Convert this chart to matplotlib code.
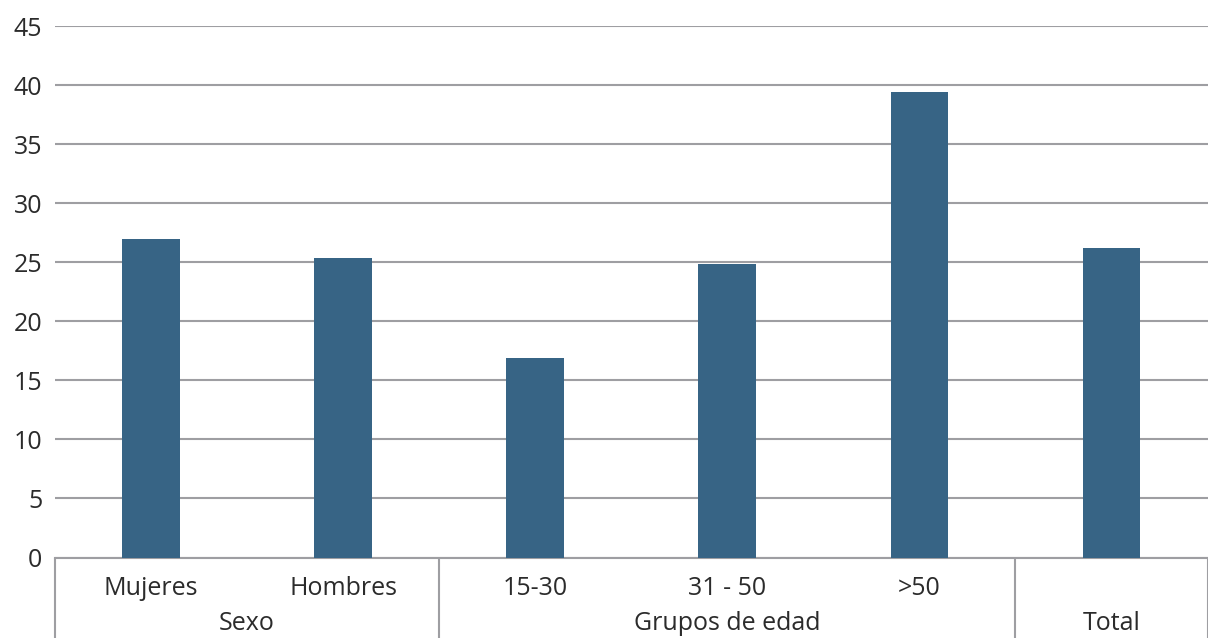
import matplotlib
matplotlib.use("Agg")
import matplotlib.pyplot as plt
import matplotlib.transforms as mtransforms

# Porcentaje por categoría
categories = ["Mujeres", "Hombres", "15-30", "31 - 50", ">50", "Total"]
tick_labels = ["Mujeres", "Hombres", "15-30", "31 - 50", ">50", ""]
values = [27.0, 25.4, 16.9, 24.9, 39.4, 26.2]

# Agrupación de categorías en el eje x: (nombre, primer índice, último índice)
group_names = ["Sexo", "Grupos de edad", "Total"]
group_start = [0, 2, 5]
group_end = [1, 4, 5]

y_ticks = [0, 5, 10, 15, 20, 25, 30, 35, 40, 45]

bar_color = "#376485"
grid_color = "#9e9ea2"
text_color = "#2b2b2b"
font_size = 18

plt.rcParams["font.family"] = ["Open Sans", "DejaVu Sans"]

W, H = 1208, 638
fig = plt.figure(figsize=(W / 100, H / 100), dpi=100)
ax = fig.add_axes([55 / W, 80.5 / H, (1207.5 - 55) / W, 531.2 / H])

x = list(range(len(categories)))
ax.bar(x, values, width=0.30, color=bar_color, zorder=3)

ax.set_xlim(-0.5, len(categories) - 0.5)
ax.set_ylim(0, 45)
ax.set_yticks(y_ticks)
ax.set_yticklabels([str(v) for v in y_ticks], fontsize=font_size, color=text_color)
ax.tick_params(axis="y", length=0, pad=9)

ax.set_xticks(x)
ax.set_xticklabels(tick_labels, fontsize=font_size, color=text_color)
ax.tick_params(axis="x", length=0, pad=13)

ax.yaxis.grid(True, color=grid_color, linewidth=1.5, zorder=0)
ax.set_axisbelow(True)
for side in ["top", "right", "left"]:
    ax.spines[side].set_visible(False)
ax.spines["bottom"].set_color(grid_color)
ax.spines["bottom"].set_linewidth(1.5)

# Separadores verticales de los grupos, bajo el eje
trans = mtransforms.blended_transform_factory(ax.transData, ax.transAxes)
y_bottom = -0.16
boundaries = [group_start[0] - 0.5] + [e + 0.5 for e in group_end]
for b in boundaries:
    ax.plot([b, b], [0, y_bottom], color=grid_color, linewidth=1.5,
            transform=trans, clip_on=False, solid_capstyle="butt")

# Nombres de los grupos
for name, s, e in zip(group_names, group_start, group_end):
    ax.text((s + e) / 2, -0.124, name, transform=trans, ha="center",
            va="center", fontsize=font_size, color=text_color)

fig.savefig("out.png", dpi=100)
